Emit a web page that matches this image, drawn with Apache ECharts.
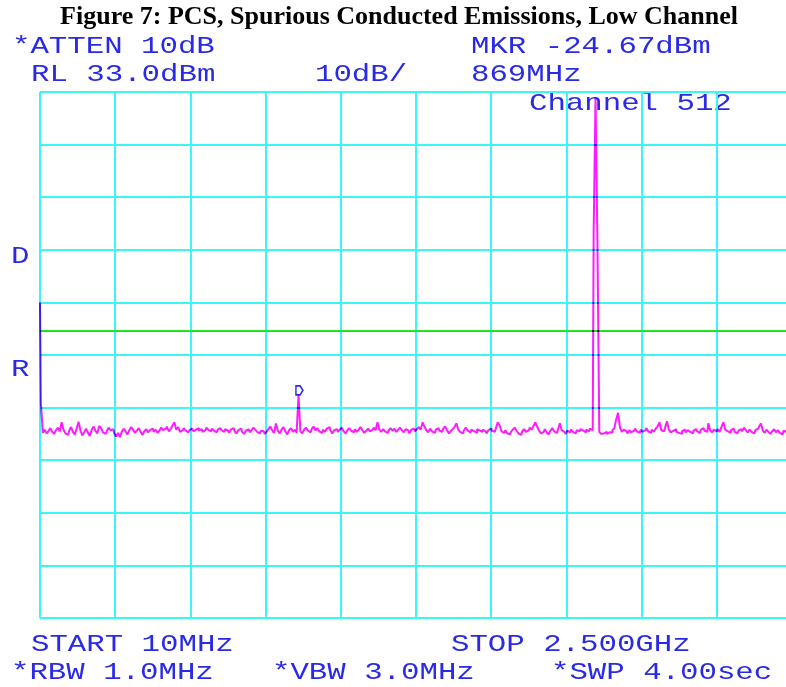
<!DOCTYPE html>
<html>
<head>
<meta charset="utf-8">
<script src="https://cdn.jsdelivr.net/npm/echarts@6/dist/echarts.min.js"></script>
<style>
  html, body { margin: 0; padding: 0; background: #ffffff; }
  #c { width: 786px; height: 687px; }
</style>
</head>
<body>
<div id="c"></div>
<script>
// Sweep settings of the analyzer
const START_MHZ = 10;
const STOP_MHZ = 2500;
const SWEEP_POINTS = 401;
const REF_LEVEL_DBM = 33;
const DB_PER_DIV = 10;
const DIVISIONS = 10;
const LIMIT_DBM = -12.3;

// Marker readout
const MARKER_INDEX = 138;
const MARKER_DBM = -24.67;

// Measured trace, one level (dBm) per sweep point
const traceDbm = [
  -7.0, -26.3, -31.8, -31.2, -31.9, -31.5, -30.9, -31.6, -32.0, -31.3, -30.8, -31.5, -29.8, -31.2, -31.9, -32.2, -31.4, -30.7, -31.6, -32.1,
  -31.0, -29.7, -31.3, -32.3, -31.7, -31.0, -31.8, -32.4, -31.2, -30.6, -31.4, -31.9, -30.5, -30.9, -31.7, -32.0, -31.5, -30.8, -31.3, -31.1,
  -31.9, -32.5, -31.8, -32.6, -31.6, -31.0, -31.5, -32.1, -31.3, -30.7, -31.2, -31.8, -31.4, -30.9, -31.6, -32.2, -31.5, -31.1, -31.7, -31.3,
  -31.0, -31.6, -31.2, -31.8, -31.4, -30.8, -31.3, -31.0, -30.6, -31.5, -31.1, -30.4, -29.8, -31.2, -30.7, -31.6, -31.3, -30.9, -31.4, -31.7,
  -31.3, -31.0, -31.5, -31.2, -30.9, -31.4, -31.1, -31.6, -31.3, -30.8, -31.2, -31.5, -31.0, -31.4, -31.7, -31.2, -30.9, -31.3, -31.6, -31.1,
  -31.4, -31.8, -31.2, -30.9, -31.5, -31.9, -31.3, -31.0, -31.6, -32.0, -31.4, -31.1, -31.7, -31.3, -30.8, -31.2, -31.6, -31.9, -31.4, -31.5,
  -32.0, -31.6, -31.1, -30.6, -31.3, -31.8, -30.0, -31.4, -31.9, -31.2, -30.7, -31.5, -32.1, -31.3, -30.9, -31.6, -31.2, -31.8, -24.67, -31.5,
  -31.9, -31.2, -30.8, -31.4, -31.7, -31.1, -30.6, -31.3, -30.9, -31.5, -31.8, -31.2, -31.6, -31.0, -30.7, -31.4, -31.9, -31.3, -31.1, -31.6,
  -31.2, -30.8, -31.5, -31.9, -31.3, -30.9, -31.4, -31.7, -31.1, -31.6, -31.2, -30.7, -31.3, -31.8, -31.4, -31.0, -31.5, -31.2, -30.8, -31.3,
  -29.8, -31.2, -31.6, -31.1, -31.5, -31.8, -31.3, -30.9, -31.4, -31.0, -31.6, -31.2, -30.8, -31.3, -31.7, -31.1, -31.4, -31.9, -31.2, -31.0,
  -31.5, -31.1, -30.7, -31.2, -29.8, -30.6, -31.3, -31.7, -31.0, -31.5, -31.8, -31.2, -30.9, -31.4, -31.6, -31.0, -30.6, -31.3, -31.9, -31.5,
  -31.1, -30.7, -30.0, -31.2, -31.6, -31.9, -31.3, -30.8, -31.4, -31.7, -31.2, -31.5, -31.8, -31.1, -31.4, -31.6, -31.2, -31.5, -31.9, -31.3,
  -31.0, -31.4, -31.6, -30.9, -29.8, -30.4, -31.5, -31.8, -31.3, -31.9, -32.1, -31.6, -31.2, -30.8, -31.4, -31.9, -32.2, -31.5, -31.1, -31.6,
  -31.3, -30.8, -31.2, -30.5, -29.8, -30.7, -31.4, -31.9, -31.6, -31.1, -31.7, -32.1, -31.4, -30.9, -31.5, -31.8, -31.2, -30.0, -31.3, -31.6,
  -32.0, -31.4, -31.7, -31.2, -31.6, -31.9, -31.3, -31.5, -31.1, -31.4, -31.7, -31.2, -31.5, -31.0, -31.3, 6.2, 32.0, 4.5, -31.6, -32.0,
  -31.9, -31.6, -32.0, -31.7, -31.8, -31.3, -30.9, -29.2, -28.0, -30.8, -31.6, -31.2, -31.5, -31.9, -31.3, -31.7, -31.4, -31.0, -31.5, -31.8,
  -31.2, -31.6, -31.3, -30.9, -31.5, -31.8, -31.2, -31.6, -31.0, -30.6, -29.8, -31.3, -31.5, -30.8, -29.6, -31.2, -31.7, -31.4, -31.1, -31.6,
  -31.8, -32.0, -31.5, -31.2, -31.7, -31.3, -31.6, -31.9, -31.4, -31.1, -31.5, -31.8, -31.2, -30.9, -31.4, -31.6, -30.0, -31.3, -31.7, -31.2,
  -31.5, -31.1, -31.6, -30.7, -29.8, -31.2, -31.5, -31.8, -31.3, -31.0, -31.6, -31.9, -31.4, -31.1, -31.5, -30.8, -31.3, -31.7, -31.2, -31.6,
  -31.9, -31.3, -31.0, -30.6, -30.0, -31.4, -31.8, -31.2, -31.6, -32.0, -31.5, -31.1, -31.7, -31.3, -31.8, -32.1, -31.4, -31.6, -31.2, -31.5,
  -31.3
];

// Screen annotations
const titleText = 'Figure 7: PCS, Spurious Conducted Emissions, Low Channel';
const headerLeft = ['*ATTEN 10dB', 'RL 33.0dBm'];
const headerMid = '10dB/';
const headerRight = ['MKR -24.67dBm', '869MHz'];
const channelText = 'Channel 512';
const sideLetters = ['D', 'R'];
const footerTop = ['START 10MHz', 'STOP 2.500GHz'];
const footerBottom = ['*RBW 1.0MHz', '*VBW 3.0MHz', '*SWP 4.00sec'];

// ---- derived scales ----
const SPAN_MHZ = STOP_MHZ - START_MHZ;
const BOTTOM_DBM = REF_LEVEL_DBM - DB_PER_DIV * DIVISIONS;
const stepMHz = SPAN_MHZ / (SWEEP_POINTS - 1);
// x: offset from START, y: dB above the bottom graticule line
const toX = i => i * stepMHz;
const toY = dbm => dbm - BOTTOM_DBM;
const traceData = traceDbm.map((v, i) => [toX(i), toY(v)]);

const BLUE = '#2a2ae6';
const CYAN = '#3cf5f5';
const MAGENTA = '#ff1aff';
const GREEN = '#1ee61e';
const HP_FONT = '"Liberation Mono", "DejaVu Sans Mono", monospace';
const HP_SIZE = 24;
const HP_SCALE = 1.28;

function hpText(str, x, yMid) {
  return {
    type: 'text', x: x, y: yMid, scaleX: HP_SCALE, silent: true,
    style: {
      text: str, fill: BLUE,
      font: HP_SIZE + 'px ' + HP_FONT,
      verticalAlign: 'middle', align: 'left'
    }
  };
}

const graphics = [
  {
    type: 'text', x: 399, y: 17, silent: true,
    style: {
      text: titleText, fill: '#000000',
      font: 'bold 26px "Liberation Serif", "Times New Roman", serif',
      align: 'center', verticalAlign: 'middle'
    }
  },
  hpText(headerLeft[0], 12, 47),
  hpText(headerLeft[1], 31, 75),
  hpText(headerMid, 315, 75),
  hpText(headerRight[0], 471, 47),
  hpText(headerRight[1], 471, 75),
  hpText(channelText, 529, 104),
  hpText(sideLetters[0], 11, 257),
  hpText(sideLetters[1], 11, 370),
  hpText(footerTop[0], 31, 645),
  hpText(footerTop[1], 451, 645),
  hpText(footerBottom[0], 11, 673),
  hpText(footerBottom[1], 272, 673),
  hpText(footerBottom[2], 551, 673)
];

const chart = echarts.init(document.getElementById('c'), null, { renderer: 'canvas' });
chart.setOption({
  animation: false,
  backgroundColor: '#ffffff',
  grid: {
    left: 40, top: 92, width: 752, height: 526,
    containLabel: false, outerBoundsMode: 'none'
  },
  xAxis: {
    type: 'value', min: 0, max: SPAN_MHZ, interval: SPAN_MHZ / DIVISIONS,
    axisLine: { show: false }, axisTick: { show: false }, axisLabel: { show: false },
    splitLine: { show: true, lineStyle: { color: CYAN, width: 2 } }
  },
  yAxis: {
    type: 'value', min: 0, max: DB_PER_DIV * DIVISIONS, interval: DB_PER_DIV,
    axisLine: { show: false }, axisTick: { show: false }, axisLabel: { show: false },
    splitLine: { show: true, lineStyle: { color: CYAN, width: 2 } }
  },
  graphic: graphics,
  series: [
    {
      // limit display line
      type: 'line', data: [], silent: true,
      markLine: {
        silent: true, symbol: 'none', label: { show: false },
        lineStyle: { color: GREEN, width: 2, type: 'solid' },
        data: [{ yAxis: toY(LIMIT_DBM) }]
      }
    },
    {
      type: 'line', zlevel: 1, step: 'middle', showSymbol: false, silent: true,
      data: traceData,
      lineStyle: { color: MAGENTA, width: 2 },
      markPoint: {
        silent: true,
        symbol: 'path://M0,0 L6,0 L10,5 L6,10 L0,10 Z',
        symbolSize: [7, 9],
        symbolOffset: [0, -5],
        itemStyle: { color: 'rgba(0,0,0,0)', borderColor: BLUE, borderWidth: 1.6 },
        label: { show: false },
        data: [{ coord: [toX(MARKER_INDEX), toY(MARKER_DBM)] }]
      }
    }
  ]
});

// the trace layer combines with the graticule the way the plotter ink does
document.querySelectorAll('#c canvas').forEach((cv, k) => {
  if (k > 0) cv.style.mixBlendMode = 'multiply';
});
</script>
</body>
</html>
